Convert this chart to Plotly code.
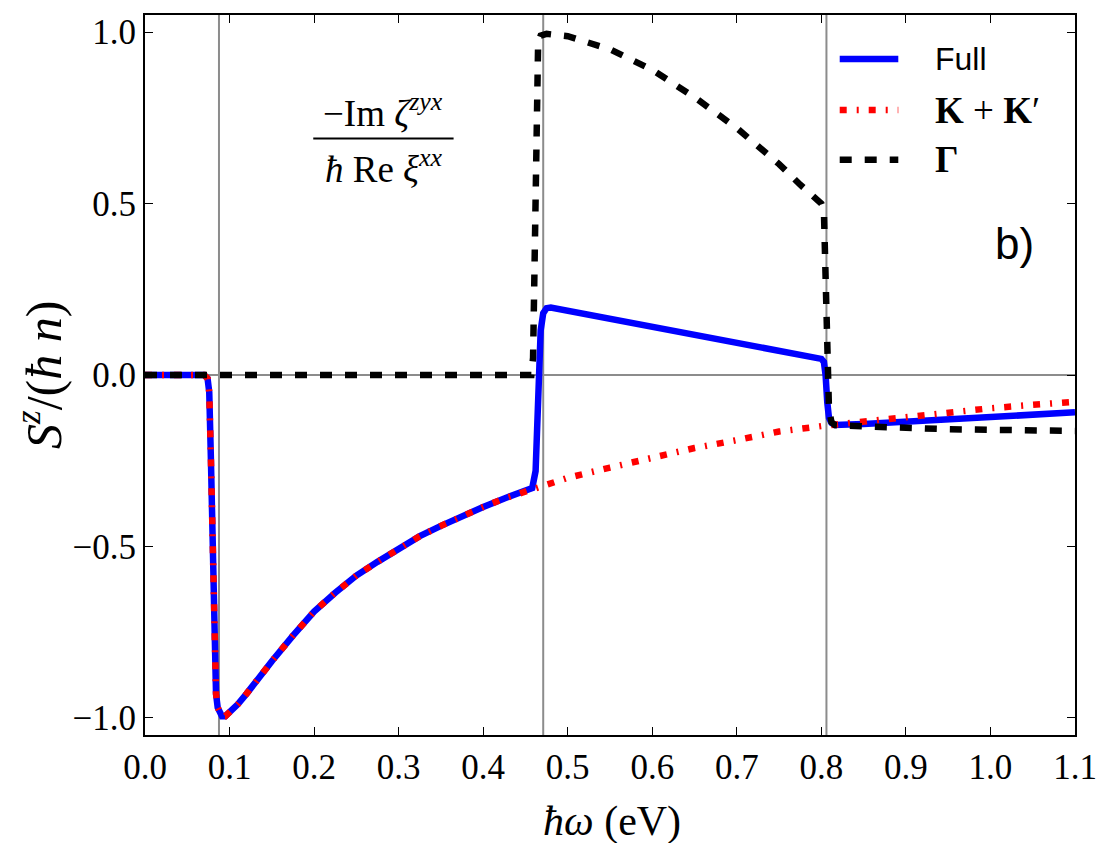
import plotly.graph_objects as go

# ---------------- data ----------------
omega_full = [0.0, 0.07, 0.074, 0.076, 0.078, 0.080, 0.082, 0.084, 0.086, 0.088, 0.091, 0.095,
              0.10, 0.11, 0.12, 0.135, 0.15, 0.175, 0.2, 0.225, 0.25, 0.275, 0.3, 0.325, 0.35,
              0.375, 0.4, 0.425, 0.45, 0.458, 0.462, 0.464, 0.466, 0.468, 0.471, 0.475, 0.48,
              0.55, 0.6, 0.65, 0.7, 0.75, 0.8, 0.803, 0.805, 0.807, 0.809, 0.812, 0.816,
              0.85, 0.9, 0.95, 1.0, 1.05, 1.1]
s_full = [0.0, 0.0, -0.01, -0.05, -0.25, -0.55, -0.8, -0.93, -0.97, -0.985, -0.995, -0.995,
          -0.985, -0.96, -0.93, -0.88, -0.835, -0.76, -0.69, -0.635, -0.585, -0.545, -0.505, -0.47, -0.44,
          -0.41, -0.385, -0.36, -0.34, -0.33, -0.28, -0.15, 0.02, 0.13, 0.18, 0.195, 0.197,
          0.165, 0.14, 0.117, 0.093, 0.07, 0.047, 0.038, 0.0, -0.08, -0.125, -0.14, -0.146,
          -0.143, -0.137, -0.130, -0.123, -0.116, -0.109]

omega_kk = [0.0, 0.07, 0.074, 0.076, 0.078, 0.080, 0.082, 0.084, 0.086, 0.088, 0.091, 0.095,
            0.10, 0.11, 0.12, 0.135, 0.15, 0.175, 0.2, 0.225, 0.25, 0.275, 0.3, 0.325, 0.35,
            0.375, 0.4, 0.425, 0.45, 0.475, 0.5, 0.55, 0.6, 0.65, 0.7, 0.75, 0.8, 0.85, 0.9,
            0.95, 1.0, 1.05, 1.1]
s_kk = [0.0, 0.0, -0.01, -0.05, -0.25, -0.55, -0.8, -0.93, -0.97, -0.985, -0.995, -0.995,
        -0.985, -0.96, -0.93, -0.88, -0.835, -0.76, -0.69, -0.635, -0.585, -0.545, -0.505, -0.47, -0.44,
        -0.41, -0.385, -0.36, -0.34, -0.32, -0.30, -0.27, -0.24, -0.213, -0.19, -0.165, -0.149, -0.135, -0.121,
        -0.108, -0.097, -0.087, -0.078]

omega_gamma = [0.0, 0.457, 0.459, 0.461, 0.463, 0.465, 0.468, 0.475, 0.5, 0.55, 0.6, 0.65, 0.7,
               0.75, 0.775, 0.8, 0.803, 0.805, 0.807, 0.809, 0.812, 0.816, 0.85, 0.9, 0.95,
               1.0, 1.05, 1.1]
s_gamma = [0.0, 0.0, 0.05, 0.5, 0.9, 0.97, 0.99, 0.995, 0.988, 0.95, 0.89, 0.81, 0.72,
           0.615, 0.555, 0.5, 0.48, 0.3, 0.0, -0.1, -0.138, -0.146, -0.15, -0.155, -0.158,
           -0.16, -0.162, -0.163]

gap_energies = [0.0875, 0.471, 0.806]

x_ticks = [0.0, 0.1, 0.2, 0.3, 0.4, 0.5, 0.6, 0.7, 0.8, 0.9, 1.0, 1.1]
x_ticklabels = ["0.0", "0.1", "0.2", "0.3", "0.4", "0.5", "0.6", "0.7", "0.8", "0.9", "1.0", "1.1"]
y_ticks = [-1.0, -0.5, 0.0, 0.5, 1.0]
y_ticklabels = ["\u22121.0", "\u22120.5", "0.0", "0.5", "1.0"]

legend_labels = ["Full", "<b>K</b> + <b>K</b>\u2032", "<b>\u0393</b>"]

# ---------------- styles ----------------
SERIF = "Liberation Serif"
SANS = "Liberation Sans"
BLUE = "#0000ff"
RED = "#ff0000"
BLACK = "#000000"
GRAY = "#8c8c8c"
RED_DASH = "7px,10px,2px,10px"
BLACK_DASH = "12px,13px"

fig = go.Figure()
fig.add_trace(go.Scatter(x=omega_full, y=s_full, mode="lines",
                         line=dict(color=BLUE, width=6.5), showlegend=False))
fig.add_trace(go.Scatter(x=omega_kk, y=s_kk, mode="lines",
                         line=dict(color=RED, width=6.5, dash=RED_DASH), showlegend=False))
fig.add_trace(go.Scatter(x=omega_gamma, y=s_gamma, mode="lines",
                         line=dict(color=BLACK, width=6.5, dash=BLACK_DASH), showlegend=False))

shapes = []
for e in gap_energies:
    shapes.append(dict(type="line", xref="x", yref="paper", x0=e, x1=e, y0=0, y1=1,
                       line=dict(color=GRAY, width=2), layer="below"))

# fraction bar of the annotation
shapes.append(dict(type="line", xref="x", yref="y", x0=0.199, x1=0.365, y0=0.69, y1=0.69,
                   line=dict(color=BLACK, width=2)))

# manual legend samples
leg_y = [0.939, 0.868, 0.799]
leg_styles = [(BLUE, "solid"), (RED, RED_DASH), (BLACK, BLACK_DASH)]
for yy, (c, d) in zip(leg_y, leg_styles):
    shapes.append(dict(type="line", xref="paper", yref="paper", x0=0.747, x1=0.81, y0=yy, y1=yy,
                       line=dict(color=c, width=6.5, dash=d)))

annotations = []
for yy, lab, fam, sz in zip(leg_y, legend_labels, [SANS, SERIF, SERIF], [32, 37, 37]):
    annotations.append(dict(xref="paper", yref="paper", x=0.847, y=yy, text=lab, showarrow=False,
                            xanchor="left", yanchor="middle",
                            font=dict(family=fam, size=sz, color=BLACK)))

annotations += [
    dict(xref="x", yref="y", x=0.282, y=0.697, yanchor="bottom", showarrow=False,
         text="\u2212Im <i>\u03b6</i><sup><i>zyx</i></sup>",
         font=dict(family=SERIF, size=37, color=BLACK)),
    dict(xref="x", yref="y", x=0.282, y=0.683, yanchor="top", showarrow=False,
         text="<i>\u0127</i> Re <i>\u03be</i><sup><i>xx</i></sup>",
         font=dict(family=SERIF, size=37, color=BLACK)),
    dict(xref="paper", yref="paper", x=0.958, y=0.72, showarrow=False,
         text="b)", font=dict(family=SANS, size=44, color=BLACK)),
    dict(xref="paper", yref="paper", x=0.502, y=-0.085, yanchor="top", showarrow=False,
         text="<i>\u0127\u03c9</i> (eV)", font=dict(family=SERIF, size=42, color=BLACK)),
    dict(xref="paper", yref="paper", x=-0.113, y=0.5, xanchor="center", showarrow=False,
         textangle=-90, text="<i>S</i><sup><i>z</i></sup>/(<i>\u0127 n</i>)",
         font=dict(family=SERIF, size=50, color=BLACK)),
]

axis_common = dict(showline=True, linecolor=BLACK, linewidth=2, mirror="ticks",
                   ticks="inside", ticklen=8, tickwidth=1.2, tickcolor=BLACK,
                   showgrid=False, tickfont=dict(family=SERIF, size=35, color=BLACK))

fig.update_layout(
    width=1110, height=843,
    margin=dict(l=145, r=35, t=15, b=108),
    paper_bgcolor="white", plot_bgcolor="white",
    xaxis=dict(range=[0, 1.1], tickvals=x_ticks, ticktext=x_ticklabels, zeroline=False,
               **axis_common),
    yaxis=dict(range=[-1.05, 1.05], tickvals=y_ticks, ticktext=y_ticklabels,
               zeroline=True, zerolinecolor=GRAY, zerolinewidth=2, **axis_common),
    shapes=shapes, annotations=annotations, showlegend=False,
)

fig.write_html("out.html")
